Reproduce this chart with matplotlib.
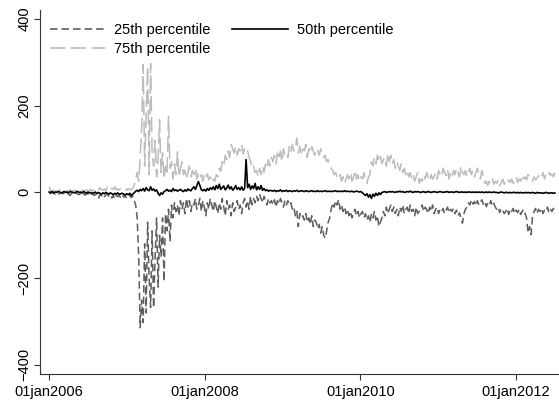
import matplotlib
matplotlib.use('Agg')
import matplotlib.pyplot as plt
import pandas as pd

# weekly readings, starting first Monday of 2006
p25 = [
    -2, -4, -1, -3, -5, -2, -6, -3, -1, -4,
    -3, -6, -2, -5, -8, -3, -4, -7, -2, -5,
    -6, -3, -9, -4, -7, -5, -3, -10, -6, -4,
    -8, -5, -12, -15, -6, -9, -4, -11, -7, -5,
    -10, -6, -14, -8, -16, -7, -11, -9, -13, -6,
    -12, -8, -15, -10, -7, -13, -9, -20, -30, -60,
    -150, -314, -250, -302, -120, -280, -70, -200, -267, -90,
    -268, -150, -60, -220, -100, -150, -60, -207, -50, -90,
    -40, -115, -30, -60, -25, -45, -30, -55, -20, -40,
    -25, -50, -15, -35, -20, -45, -25, -30, -15, -40,
    -30, -15, -45, -20, -35, -55, -25, -40, -15, -30,
    -45, -20, -35, -50, -25, -40, -15, -35, -55, -20,
    -40, -30, -55, -25, -45, -35, -20, -40, -30, -50,
    -25, -15, -35, -20, -40, -10, -30, -15, -25, -10,
    -20, -5, -15, -25, -10, -20, -30, -15, -25, -20,
    -30, -18, -35, -20, -28, -15, -25, -35, -20, -30,
    -20, -30, -25, -40, -35, -55, -45, -80, -50, -60,
    -55, -65, -50, -70, -60, -75, -55, -80, -65, -70,
    -85, -75, -95, -80, -100, -107, -90, -70, -60, -40,
    -25, -35, -20, -30, -18, -40, -30, -45, -35, -50,
    -40, -55, -45, -60, -50, -40, -55, -45, -60, -50,
    -45, -60, -50, -65, -55, -70, -50, -60, -45, -65,
    -55, -80, -70, -60, -45, -55, -35, -50, -40, -30,
    -45, -35, -50, -40, -55, -35, -45, -30, -50, -40,
    -35, -50, -30, -45, -40, -55, -35, -50, -45, -40,
    -30, -45, -35, -40, -50, -35, -45, -30, -50, -40,
    -35, -50, -40, -45, -38, -50, -42, -35, -48, -40,
    -45, -38, -50, -42, -55, -48, -60, -72, -50, -40,
    -35, -25, -30, -18, -28, -22, -32, -20, -30, -25,
    -18, -28, -22, -34, -25, -30, -20, -32, -26, -35,
    -40, -35, -48, -38, -42, -50, -45, -38, -52, -40,
    -45, -38, -50, -42, -48, -40, -52, -45, -40, -50,
    -60, -95, -80, -99, -55, -45, -38, -50, -40, -45,
    -38, -50, -42, -45, -35, -48, -40, -45, -38, -50,
]

p50 = [
    0, -1, 1, -2, 0, -1, 1, 0, -2, -1,
    1, -1, 0, -2, 1, 0, -1, -2, 0, 1,
    -1, 0, -2, 1, -1, -3, 0, -2, -1, -3,
    -2, 0, -4, -1, -3, -5, -2, -4, -1, -3,
    -5, -2, -4, -6, -3, -5, -2, -6, -4, -3,
    -5, -7, -4, -6, -3, -8, -5, -2, 2, 4,
    1, 6, 3, 8, 2, 10, 5, 3, 12, 4,
    7, 2, 5, -3, -8, -2, -5, 1, 3, 6,
    2, 4, 1, 8, 3, 5, 2, 4, 6, 3,
    1, 5, 2, 7, 4, 3, 8, 12, 6, 15,
    24, 15, 5, 3, 6, 2, 8, 4, 10, 6,
    12, 5, 15, 8, 18, 6, 10, 14, 5, 9,
    16, 7, 12, 4, 8, 15, 6, 10, 5, 12,
    4, 8, 75, 10, 18, 6, 14, 8, 20, 5,
    12, 6, 15, 4, 8, 3, 5, 2, 4, 3,
    2, 4, 1, 3, 2, 5, 1, 3, 2, 4,
    1, 3, 2, 1, 3, 2, 4, 1, 2, 3,
    2, 1, 3, 2, 1, 2, 3, 1, 2, 1,
    3, 1, 2, 1, 2, 3, 1, 2, 1, 2,
    1, 2, 3, 1, 2, 1, 2, 1, 3, 1,
    2, 1, 1, 2, 0, 1, 2, 1, 0, 1,
    -2, -5, -8, -4, -12, -6, -15, -5, -10, -3,
    -8, -2, -6, -1, 0, 1, -1, 0, 1, 0,
    1, 0, -1, 1, 0, 2, 0, 1, -1, 0,
    1, 0, 2, 0, -1, 1, 0, 1, 0, -1,
    0, 1, -1, 0, 1, 0, -1, 0, 1, 0,
    -1, 0, 1, 0, -1, 0, 0, 1, -1, 0,
    0, -1, 0, 1, 0, -1, 0, 0, -1, 0,
    -1, 0, 0, -1, 0, -1, 0, -1, 0, -1,
    0, -1, -1, 0, -1, 0, -1, -1, 0, -1,
    -1, -2, -1, 0, -1, -2, -1, -1, -2, -1,
    -2, -1, -1, -2, -1, -2, -1, -2, -2, -1,
    -2, -1, -2, -2, -1, -2, -3, -1, -2, -2,
    -2, -3, -2, -1, -2, -3, -2, -2, -3, -2,
]

p75 = [
    12, 3, 2, 4, 1, 3, 2, 5, 2, 3,
    4, 2, 3, 1, 5, 3, 2, 4, 3, 2,
    6, 9, 3, 4, 2, 5, 3, 4, 6, 3,
    4, 8, 5, 3, 10, 6, 4, 7, 3, 11,
    5, 4, 8, 6, 12, 5, 7, 4, 9, 6,
    5, 7, 4, 8, 6, 5, 9, 15, 30, 45,
    25, 80, 150, 295, 60, 180, 290, 40, 297, 90,
    60, 120, 35, 75, 167, 45, 90, 30, 60, 40,
    175, 55, 70, 30, 65, 40, 93, 35, 55, 70,
    40, 50, 30, 45, 60, 35, 50, 40, 55, 30,
    45, 35, 40, 25, 38, 30, 42, 28, 35, 22,
    30, 25, 40, 35, 55, 48, 70, 60, 85, 75,
    95, 80, 110, 100, 90, 105, 85, 100, 95, 110,
    88, 100, 90, 95, 80, 70, 55, 60, 45, 50,
    35, 55, 40, 60, 45, 65, 55, 75, 60, 80,
    70, 85, 65, 90, 75, 95, 70, 100, 85, 90,
    80, 105, 90, 110, 95, 100, 125, 90, 105, 85,
    100, 95, 110, 80, 100, 90, 105, 95, 85, 100,
    95, 85, 100, 90, 80, 85, 70, 75, 60, 55,
    50, 40, 45, 35, 30, 40, 25, 35, 20, 30,
    40, 30, 45, 25, 35, 50, 30, 40, 25, 35,
    30, 45, 25, 20, 35, 40, 70, 60, 80, 65,
    85, 70, 82, 65, 75, 80, 60, 90, 70, 85,
    65, 75, 55, 70, 60, 50, 65, 45, 55, 40,
    50, 35, 45, 30, 40, 25, 35, 45, 20, 30,
    25, 40, 30, 45, 35, 25, 40, 30, 35, 45,
    30, 50, 40, 35, 55, 45, 38, 52, 30, 45,
    35, 50, 40, 55, 45, 35, 60, 45, 40, 50,
    35, 45, 55, 40, 50, 35, 45, 55, 40, 30,
    50, 35, 20, 25, 15, 25, 20, 30, 18, 25,
    20, 28, 15, 22, 30, 18, 25, 20, 28, 22,
    30, 20, 25, 35, 22, 30, 25, 40, 30, 35,
    28, 40, 35, 30, 25, 35, 28, 32, 38, 30,
    35, 45, 30, 40, 35, 45, 38, 42, 35, 45,
]

dates = pd.date_range('2006-01-02', periods=len(p50), freq='7D')

x_ticks = ['2006-01-01', '2008-01-01', '2010-01-01', '2012-01-01']
x_labels = ['01jan2006', '01jan2008', '01jan2010', '01jan2012']
y_ticks = [-400, -200, 0, 200, 400]

plt.rcParams['font.family'] = ['Liberation Sans', 'DejaVu Sans']
plt.rcParams['font.size'] = 10.5
plt.rcParams['lines.scale_dashes'] = False

fig = plt.figure(figsize=(5.59, 4.01), dpi=100)
ax = fig.add_axes([40 / 559, 27 / 401, 1 - 40 / 559, 364 / 401])

l25, = ax.plot(dates, p25, color='#5e5e5e', lw=1.1, dashes=(5.4, 2.9),
               label='25th percentile')
l75, = ax.plot(dates, p75, color='#bcbcbc', lw=1.1, dashes=(11, 4),
               label='75th percentile')
l50, = ax.plot(dates, p50, color='black', lw=1.2, label='50th percentile')

ax.set_xlim(pd.Timestamp('2005-11-20'), pd.Timestamp('2012-07-21'))
ax.set_ylim(-421, 421)

ax.set_xticks(pd.to_datetime(x_ticks))
ax.set_xticklabels(x_labels)
ax.set_yticks(y_ticks)
ax.set_yticklabels([str(v).replace('-', '\u2212') for v in y_ticks],
                   rotation=90, va='center')

for s in ['top', 'right']:
    ax.spines[s].set_visible(False)
for s in ['left', 'bottom']:
    ax.spines[s].set_linewidth(0.8)
    ax.spines[s].set_color('#333333')
ax.tick_params(length=4, width=0.8, color='#333333', pad=2)
ax.tick_params(axis='x', pad=4)

leg = fig.legend([l25, l75, l50],
                 ['25th percentile', '75th percentile', '50th percentile'],
                 ncol=2, loc='upper left', frameon=False,
                 bbox_to_anchor=(50 / 559, 1 - 23 / 401),
                 bbox_transform=fig.transFigure,
                 borderpad=0, borderaxespad=0, handlelength=3.8,
                 handletextpad=0.6, columnspacing=1.5, labelspacing=0.33)
for h in leg.get_lines():
    h.set_linewidth(1.2)

fig.savefig('out.png', dpi=100)
